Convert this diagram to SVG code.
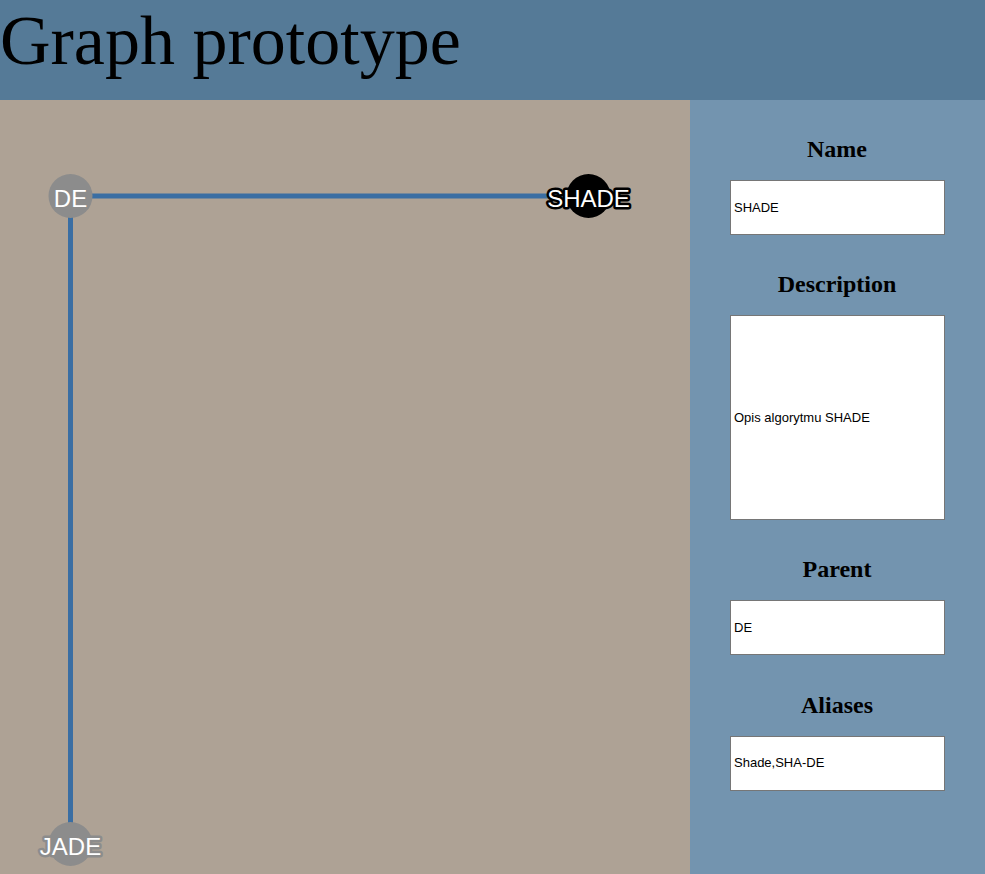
<svg xmlns="http://www.w3.org/2000/svg" width="985" height="874" viewBox="0 0 985 874">
<style>
.hdr{fill:#557a97}
.canvas{fill:#aea295}
.panel{fill:#7394af}
.title{font-family:"Liberation Serif","Times New Roman",serif;font-size:70px;fill:#000}
.lbl{font-family:"Liberation Serif","Times New Roman",serif;font-size:24px;font-weight:bold;fill:#000;text-anchor:middle}
.box{fill:#fff;stroke:#767676;stroke-width:1}
.val{font-family:"Liberation Sans",Arial,sans-serif;font-size:13px;fill:#000}
.edge{stroke:#3a6ea3;stroke-width:5;fill:none}
.nlabel{font-family:"Liberation Sans",Arial,sans-serif;font-size:24px;fill:#fff;text-anchor:middle;paint-order:stroke;stroke-width:5px;stroke-linejoin:round}
</style>
<rect class="hdr" x="0" y="0" width="985" height="100"/>
<text class="title" x="0" y="64">Graph prototype</text>
<rect class="canvas" x="0" y="100" width="690" height="774"/>
<rect class="panel" x="690" y="100" width="295" height="774"/>
<g id="connectors">
<line class="edge" x1="70.5" y1="196" x2="588.5" y2="196"/>
<line class="edge" x1="70.5" y1="196" x2="70.5" y2="844"/>
</g>
<g id="node-DE">
<circle cx="70.5" cy="196" r="22" fill="#8c8c8c"/>
<text class="nlabel" x="70.5" y="207" stroke="#8c8c8c">DE</text>
</g>
<g id="node-SHADE">
<circle cx="588.5" cy="196" r="22" fill="#000"/>
<text class="nlabel" x="588.5" y="207" stroke="#000">SHADE</text>
</g>
<g id="node-JADE">
<circle cx="70.5" cy="844" r="22" fill="#8c8c8c"/>
<text class="nlabel" x="70.5" y="855" stroke="#8c8c8c">JADE</text>
</g>
<g id="field-name">
<text class="lbl" x="837" y="157">Name</text>
<rect class="box" x="730.5" y="180.5" width="214" height="54"/>
<text class="val" x="734" y="212">SHADE</text>
</g>
<g id="field-description">
<text class="lbl" x="837" y="292">Description</text>
<rect class="box" x="730.5" y="315.5" width="214" height="204"/>
<text class="val" x="734" y="422">Opis algorytmu SHADE</text>
</g>
<g id="field-parent">
<text class="lbl" x="837" y="577">Parent</text>
<rect class="box" x="730.5" y="600.5" width="214" height="54"/>
<text class="val" x="734" y="632">DE</text>
</g>
<g id="field-aliases">
<text class="lbl" x="837" y="713">Aliases</text>
<rect class="box" x="730.5" y="736.5" width="214" height="54"/>
<text class="val" x="734" y="767">Shade,SHA-DE</text>
</g>
</svg>
